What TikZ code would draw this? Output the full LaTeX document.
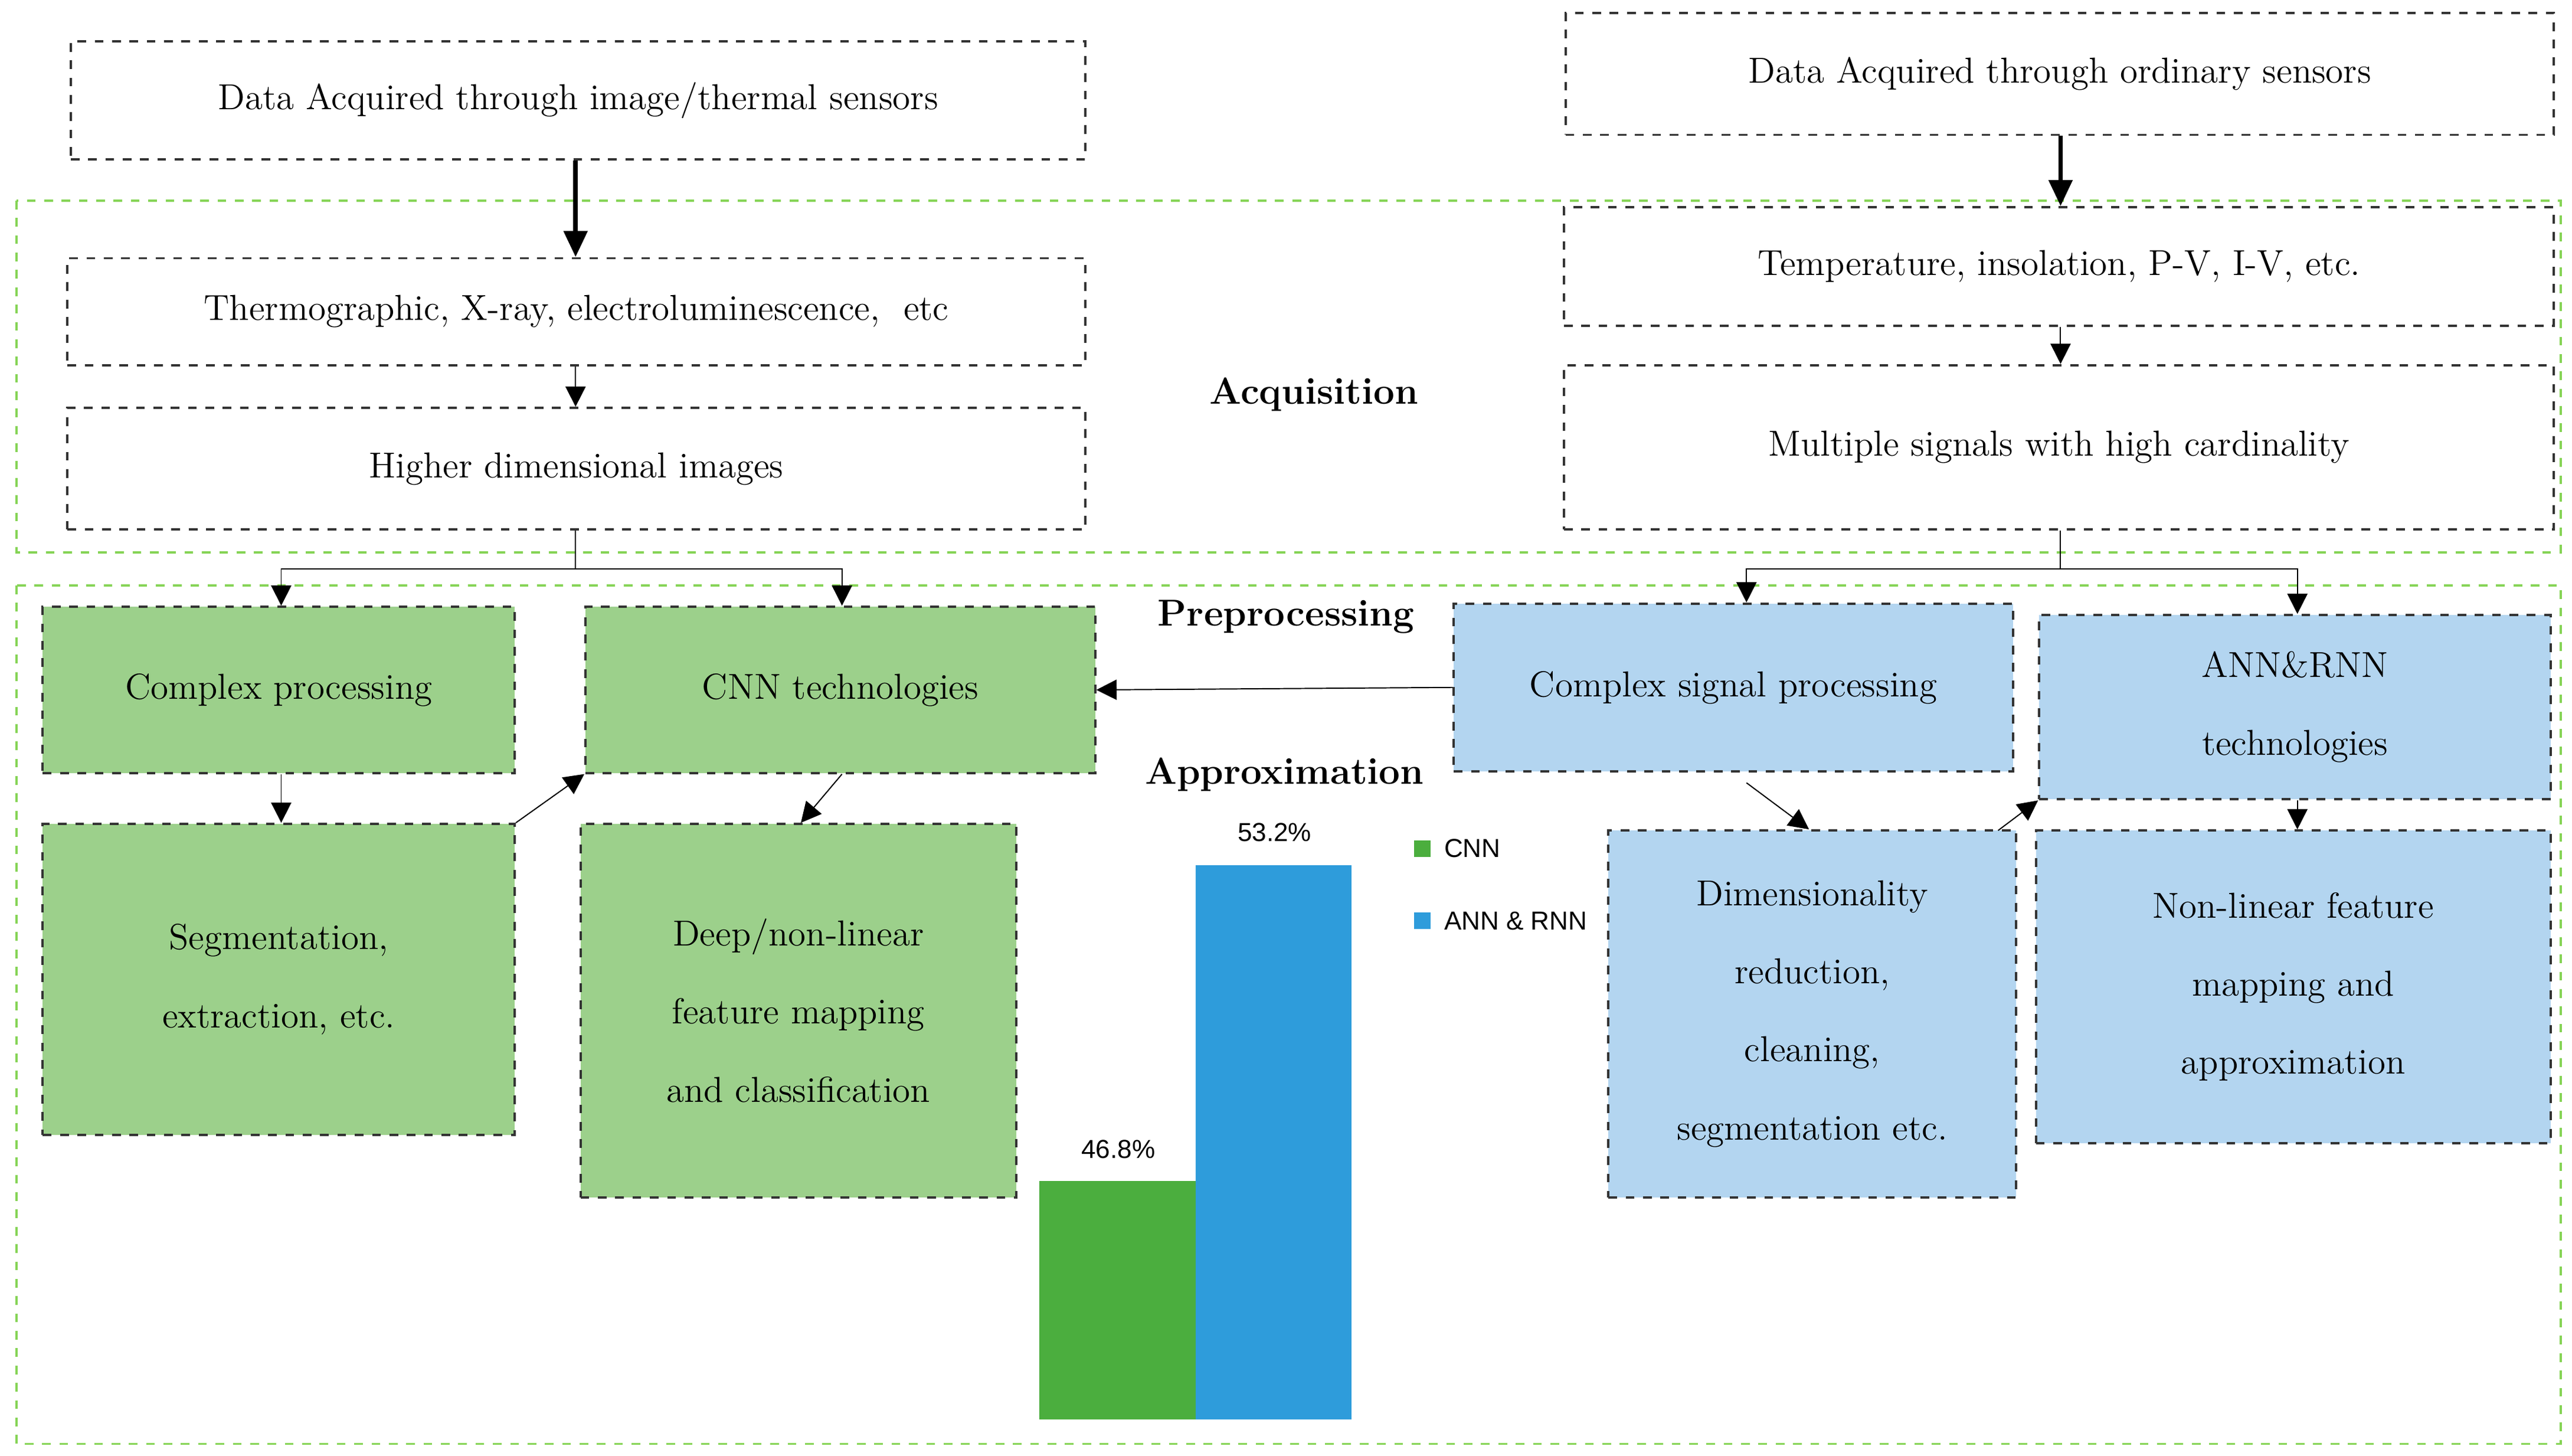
\documentclass[tikz,border=0pt]{standalone}
\usepackage{fontspec}
\newfontfamily\sansf{Liberation Sans}
\usetikzlibrary{arrows.meta}
\definecolor{gfill}{HTML}{9CD08B}
\definecolor{bfill}{HTML}{B3D5F0}
\definecolor{gbar}{HTML}{4BAE3E}
\definecolor{bbar}{HTML}{2E9CDB}
\definecolor{reg}{HTML}{86D456}
\begin{document}
\begin{tikzpicture}[x=0.02cm,y=-0.02cm,
  box/.style={draw=black!80,dashed,thick,align=center,font=\fontsize{12.5}{27}\selectfont},
  reg/.style={draw=reg,dashed,thick},
  ar/.style={-{Triangle[length=7pt,width=7pt]},thin},
  bar/.style={-{Triangle[length=9pt,width=8pt]},line width=1.6pt},
  lab/.style={font=\bfseries\fontsize{13}{15}\selectfont}]
\useasboundingbox (0,0) rectangle (1564,885);
\draw[reg] (10,122) rectangle (1557,336);
\draw[reg] (10,356) rectangle (1557,878);
\node[box,minimum width=617*0.02cm,minimum height=72*0.02cm] (a1) at (351.5,61) {Data Acquired through image/thermal sensors};
\node[box,minimum width=601*0.02cm,minimum height=74*0.02cm] (b1) at (1252.5,45) {Data Acquired through ordinary sensors};
\node[box,minimum width=619*0.02cm,minimum height=65*0.02cm] (a2) at (350.5,189.5) {Thermographic, X-ray, electroluminescence,\ \ etc};
\node[box,minimum width=619*0.02cm,minimum height=74*0.02cm] (a3) at (350.5,285) {Higher dimensional images};
\node[box,minimum width=602*0.02cm,minimum height=72*0.02cm] (b2) at (1252,162) {Temperature, insolation, P-V, I-V, etc.};
\node[box,minimum width=602*0.02cm,minimum height=100*0.02cm] (b3) at (1252,272) {Multiple signals with high cardinality};
\node[lab] (acq) at (799,240) {Acquisition};
\node[lab] (pre) at (782,375) {Preprocessing};
\node[lab] (app) at (781,471) {Approximation};
\node[box,fill=gfill,minimum width=287*0.02cm,minimum height=101*0.02cm] (g1) at (169.5,419.5) {Complex processing};
\node[box,fill=gfill,minimum width=310*0.02cm,minimum height=101*0.02cm] (g2) at (511,419.5) {CNN technologies};
\node[box,fill=gfill,minimum width=287*0.02cm,minimum height=189*0.02cm] (g3) at (169.5,595.5) {Segmentation,\\extraction, etc.};
\node[box,fill=gfill,minimum width=265*0.02cm,minimum height=227*0.02cm] (g4) at (485.5,614.5) {Deep/non-linear\\feature mapping\\and classification};
\node[box,fill=bfill,minimum width=340*0.02cm,minimum height=102*0.02cm] (l1) at (1054,418) {Complex signal processing};
\node[box,fill=bfill,minimum width=311*0.02cm,minimum height=112*0.02cm] (l2) at (1395.5,430) {ANN\&RNN\\technologies};
\node[box,fill=bfill,minimum width=248*0.02cm,minimum height=223*0.02cm] (l3) at (1102,616.5) {Dimensionality\\reduction,\\cleaning,\\segmentation etc.};
\node[box,fill=bfill,minimum width=313*0.02cm,minimum height=190*0.02cm] (l4) at (1394.5,600) {Non-linear feature\\mapping and\\approximation};
% bars
\fill[gbar] (632,718) rectangle (727,863);
\fill[bbar] (727,526) rectangle (822,863);
\node[font=\sansf\fontsize{9}{10}\selectfont] (p1) at (680,699) {46.8\%};
\node[font=\sansf\fontsize{9}{10}\selectfont] (p2) at (775,506) {53.2\%};
\fill[gbar] (860,511) rectangle (870,521);
\fill[bbar] (860,555) rectangle (870,565);
\node[font=\sansf\fontsize{9}{10}\selectfont,anchor=west] (c1) at (872,516) {CNN};
\node[font=\sansf\fontsize{9}{10}\selectfont,anchor=west] (c2) at (872,560) {ANN \& RNN};
% arrows
\draw[bar] (a1.south-|350,0) -- (a2.north-|350,0);
\draw[bar] (b1.south-|1253,0) -- (b2.north-|1253,0);
\draw[ar] (a2.south-|350,0) -- (a3.north-|350,0);
\draw[ar] (b2.south-|1253,0) -- (b3.north-|1253,0);
\coordinate (sa) at (350,346);
\coordinate (sb) at (1253,346);
\draw (a3.south-|350,0) -- (sa);
\draw[ar] (sa) -| (g1.north-|171,0);
\draw[ar] (sa) -| (g2.north-|512,0);
\draw (b3.south-|1253,0) -- (sb);
\draw[ar] (sb) -| (l1.north-|1062,0);
\draw[ar] (sb) -| (l2.north-|1397,0);
\draw[ar] (g1.south-|171,0) -- (g3.north-|171,0);
\draw[ar] (g3.north east) -- (g2.south west);
\draw[ar] (g2.south-|512,0) -- (g4.north-|487,0);
\draw[ar] (l1.west) -- (g2.east);
\draw[ar] (1062,476) -- (l3.north-|1100,0);
\draw[ar] (1215,505) -- (l2.south west);
\draw[ar] (l2.south-|1397,0) -- (l4.north-|1397,0);
\end{tikzpicture}
\end{document}
